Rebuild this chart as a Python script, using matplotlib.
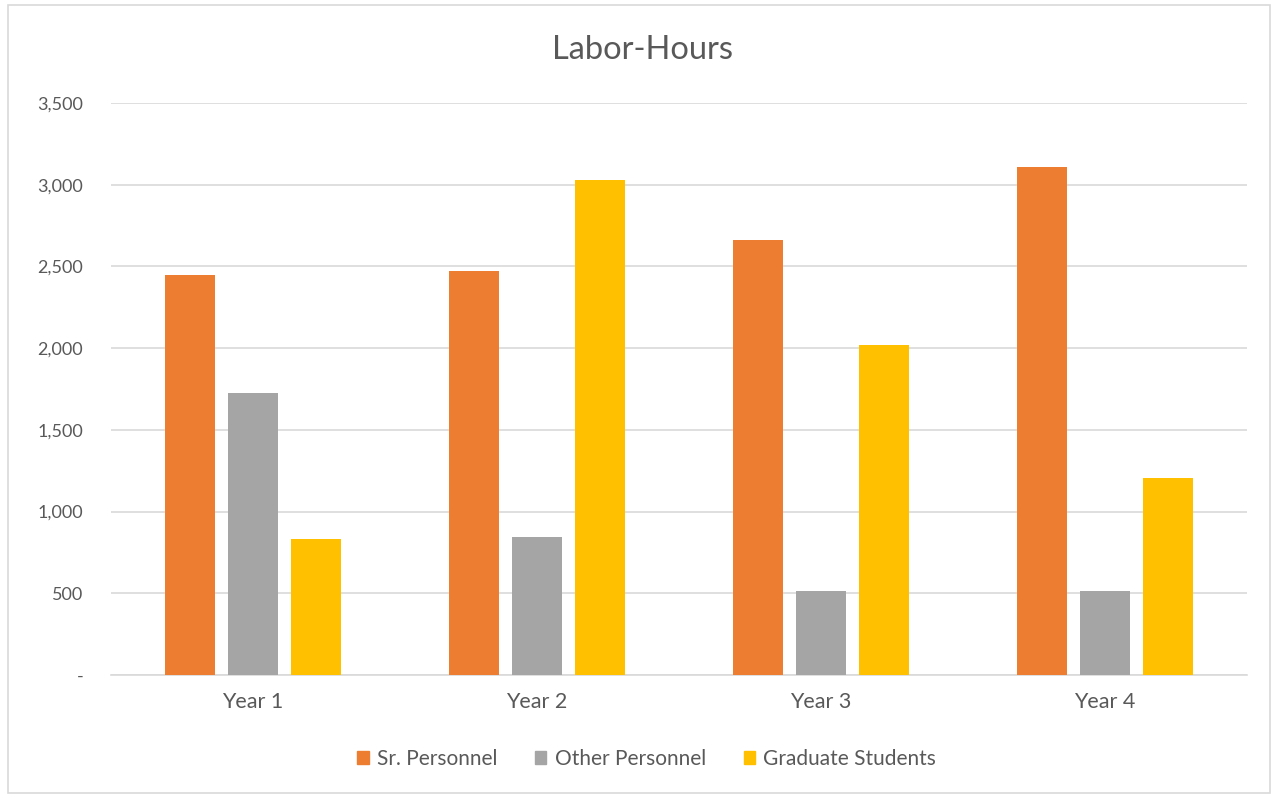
import matplotlib
matplotlib.use("Agg")
import matplotlib.pyplot as plt
import matplotlib.patches as mpatches
from matplotlib.ticker import FuncFormatter
import numpy as np

categories = ["Year 1", "Year 2", "Year 3", "Year 4"]
series_names = ["Sr. Personnel", "Other Personnel", "Graduate Students"]
sr_personnel = [2445, 2470, 2660, 3108]
other_personnel = [1725, 846, 516, 516]
graduate_students = [832, 3026, 2020, 1205]
colors = ["#ED7D31", "#A5A5A5", "#FFC000"]

plt.rcParams['font.family'] = ['Lato', 'DejaVu Sans']
text_color = "#595959"

fig = plt.figure(figsize=(12.73, 7.95), dpi=100)
fig.patch.set_facecolor("white")
border = mpatches.Rectangle((8 / 1273, 2 / 795), 1262 / 1273, 788 / 795,
                            transform=fig.transFigure, fill=False,
                            edgecolor="#d9d9d9", linewidth=1.2)
fig.patches.append(border)

ax = fig.add_axes([111 / 1273, 1 - 675 / 795, (1247 - 111) / 1273, (675 - 103) / 795])

x = np.arange(len(categories))
width = 0.177
step = 0.222
for i, (vals, name) in enumerate(zip([sr_personnel, other_personnel, graduate_students], series_names)):
    ax.bar(x + (i - 1) * step, vals, width, color=colors[i], label=name, zorder=3)

ax.set_xlim(-0.5, len(categories) - 0.5)
ax.set_ylim(0, 3500)
ax.set_yticks(np.arange(0, 3501, 500))
ax.yaxis.set_major_formatter(FuncFormatter(lambda v, p: "-" if v == 0 else f"{int(v):,}"))
ax.set_xticks(x)
ax.set_xticklabels(categories)
ax.grid(axis="y", color="#d9d9d9", linewidth=1.2, zorder=0)
for s in ["top", "right", "left"]:
    ax.spines[s].set_visible(False)
ax.spines["bottom"].set_color("#d9d9d9")
ax.spines["bottom"].set_linewidth(1.2)
ax.tick_params(axis="both", length=0, colors=text_color)
ax.tick_params(axis="x", labelsize=15.5, pad=12)
ax.tick_params(axis="y", labelsize=13, pad=20)
for lbl in ax.get_yticklabels():
    lbl.set_horizontalalignment("right")

fig.text(0.505, 1 - 50 / 795, "Labor-Hours", ha="center", va="center",
         fontsize=23.5, color=text_color)

handles = [mpatches.Patch(color=c) for c in colors]
leg = fig.legend(handles, series_names, loc="center", bbox_to_anchor=(0.508, 1 - 759 / 795),
                 ncol=3, frameon=False, fontsize=15, handlelength=0.55, handleheight=0.55,
                 handletextpad=0.4, columnspacing=1.8)
for t in leg.get_texts():
    t.set_color(text_color)

fig.savefig("out.png", dpi=100, facecolor="white")
